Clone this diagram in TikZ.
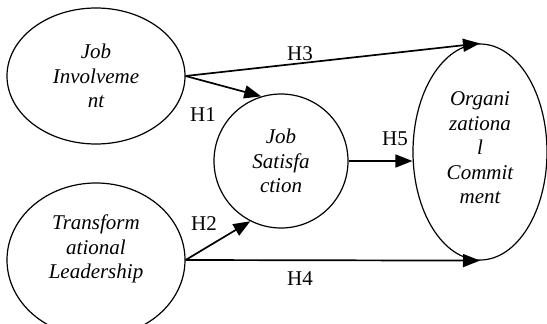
\documentclass[tikz,border=0pt]{standalone}
\usepackage{fontspec}
\setmainfont{Liberation Serif}
\usetikzlibrary{shapes.geometric,arrows.meta}
\begin{document}
\begin{tikzpicture}[x=1pt,y=-1pt,
  ovalbox/.style={draw,ellipse,line width=1.2pt,inner sep=0pt},
  roundbox/.style={draw,circle,line width=1.2pt,inner sep=0pt,minimum size=134pt},
  itxt/.style={font=\fontsize{21}{24.5}\selectfont\itshape,align=center,inner sep=0pt},
  hlab/.style={font=\fontsize{21}{24}\selectfont,inner sep=0pt},
  link/.style={line width=1.7pt,-{Triangle[length=17pt,width=13pt]}}]
\useasboundingbox (0,0) rectangle (547,324);
\node[ovalbox,minimum width=178pt,minimum height=136pt,itxt] (JI) at (96,76) {Job\\Involveme\\nt};
\node[ovalbox,minimum width=178pt,minimum height=154pt] (TL) at (96,260) {};
\node[itxt] (TLt) at (96,249) {Transform\\ational\\Leadership};
\node[roundbox,itxt] (JS) at (281,161) {Job\\Satisfa\\ction};
\node[ovalbox,minimum width=134pt,minimum height=216pt] (OC) at (480,152) {};
\node[itxt] (OCt) at (480,148) {Organi\\zationa\\l\\Commit\\ment};
\draw[link] (JI.east) -- (OC.north);
\draw[link] (JI.east) -- (JS.107);
\draw[link] (TL.east) -- (JS.243);
\draw[link] (TL.east) -- (OC.south);
\draw[link] (JS.east) -- (JS.east -| OC.west);
\node[hlab] (H3) at (300,54) {H3};
\node[hlab] (H1) at (203,115) {H1};
\node[hlab] (H2) at (204,224) {H2};
\node[hlab] (H4) at (300,279) {H4};
\node[hlab] (H5) at (395,139) {H5};
\end{tikzpicture}
\end{document}
